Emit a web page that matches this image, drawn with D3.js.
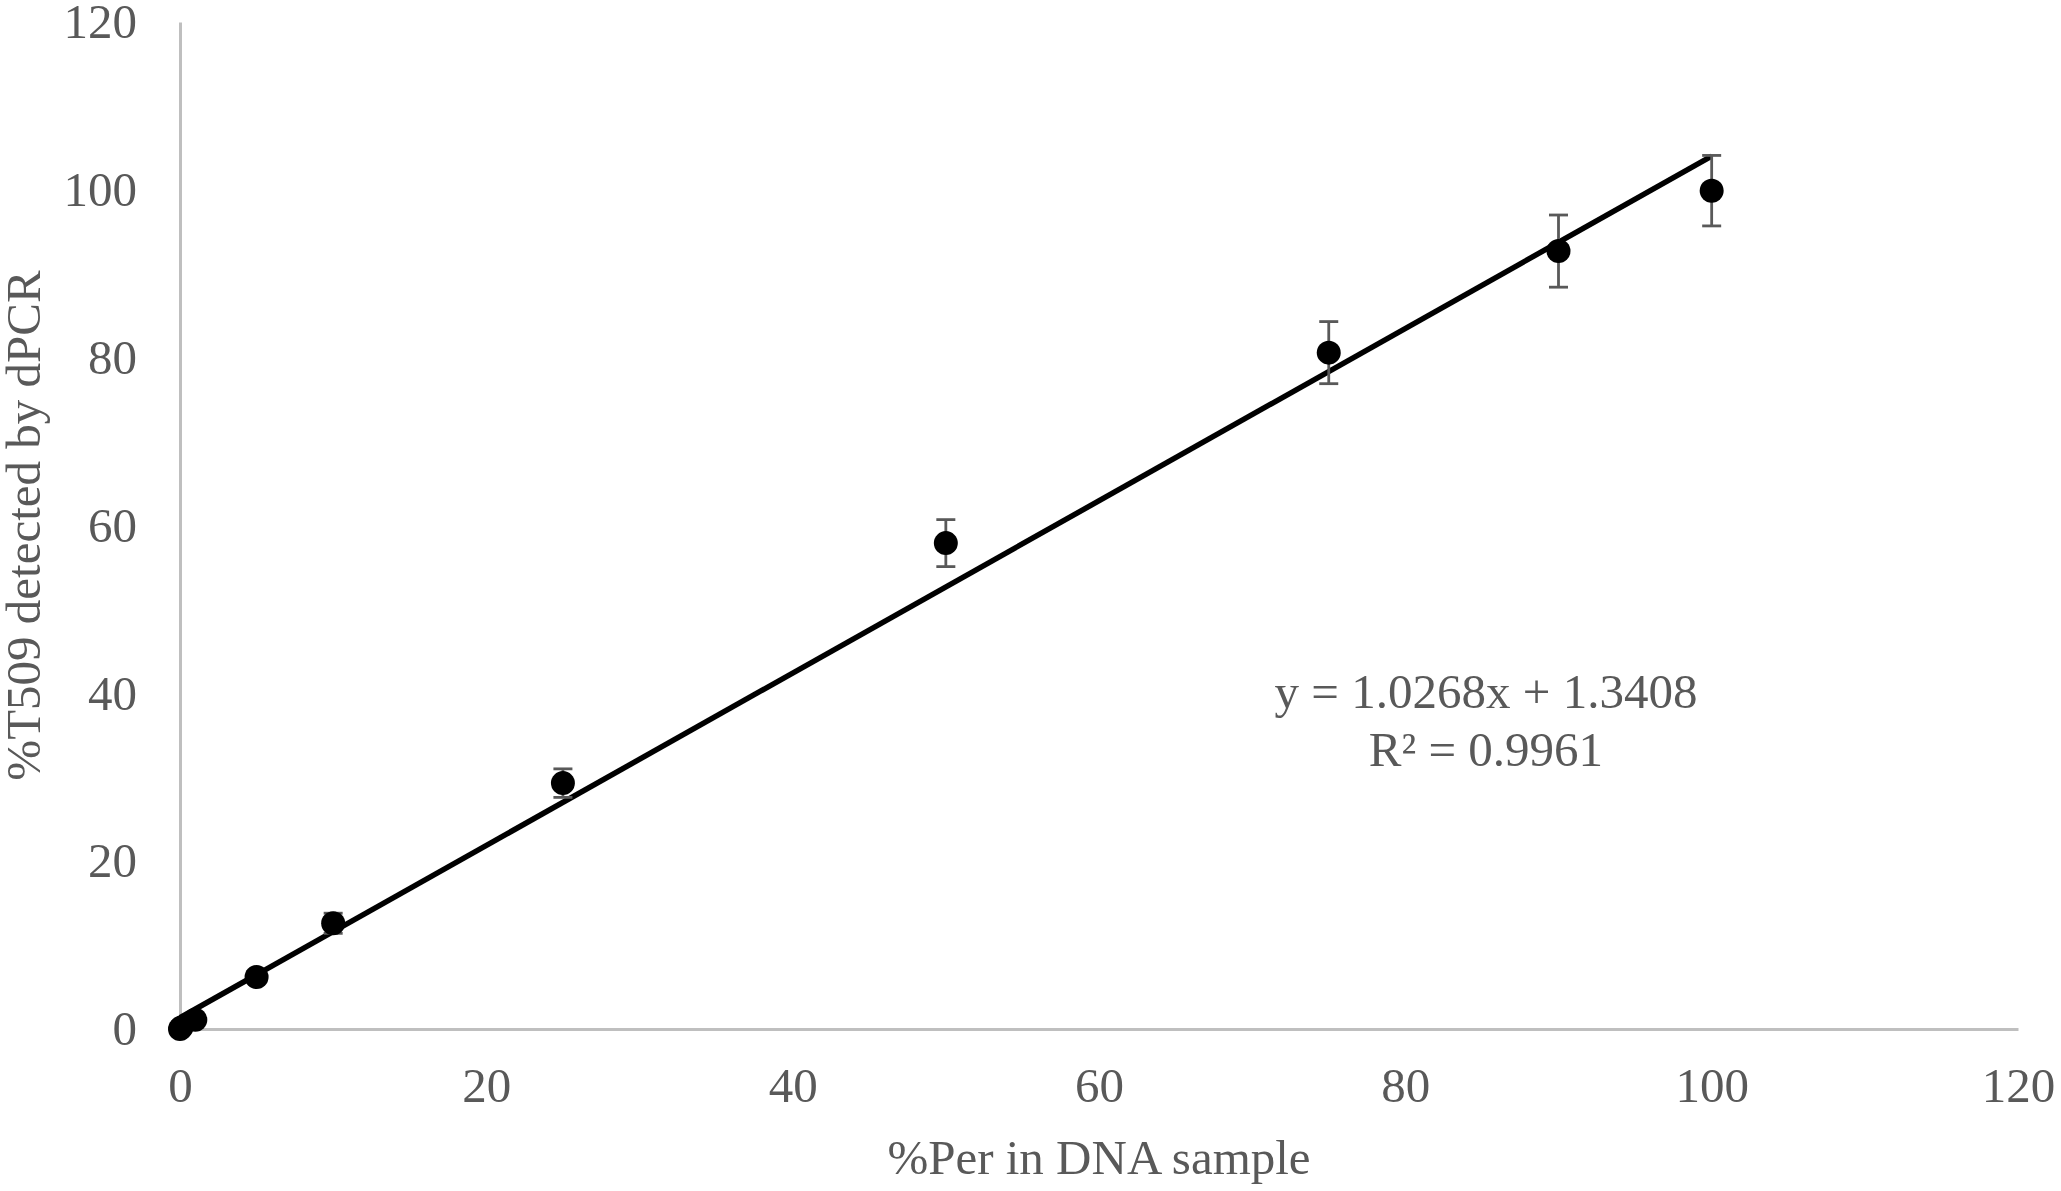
<!DOCTYPE html>
<html>
<head>
<meta charset="utf-8">
<script src="https://cdn.jsdelivr.net/npm/d3@7"></script>
<style>
  body { margin: 0; background: #fff; }
  text { font-family: "Liberation Serif", "Times New Roman", serif; fill: #595959; }
</style>
</head>
<body>
<div id="chart"></div>
<script>
// data
var pctPer = [0, 0.1, 1, 5, 10, 25, 50, 75, 90, 100];
var pctT509 = [0, 0.2, 1.1, 6.2, 12.6, 29.3, 57.9, 80.6, 92.7, 99.9];
var errT509 = [0.2, 0.2, 0.4, 0.6, 1.2, 1.7, 2.8, 3.7, 4.3, 4.2];
var xTicks = [0, 20, 40, 60, 80, 100, 120];
var yTicks = [0, 20, 40, 60, 80, 100, 120];
var trendSlope = 1.0268, trendIntercept = 1.3408;
var trendRange = [0, 100];
var eqLines = ["y = 1.0268x + 1.3408", "R\u00b2 = 0.9961"];

var width = 2061, height = 1191;
var fontSize = 49;

var svg = d3.select("#chart")
  .append("svg")
    .attr("width", width)
    .attr("height", height);

var x = d3.scaleLinear().domain([0, 120]).range([180, 2018]);
var y = d3.scaleLinear().domain([0, 120]).range([1029, 22]);

// axes
var xAxis = svg.append("g")
  .attr("transform", "translate(0," + y(0) + ")")
  .call(d3.axisBottom(x).tickValues(xTicks).tickSize(0).tickPadding(38));
var yAxis = svg.append("g")
  .attr("transform", "translate(" + x(0) + ",0)")
  .call(d3.axisLeft(y).tickValues(yTicks).tickSize(0).tickPadding(43));

[xAxis, yAxis].forEach(function (g) {
  g.select(".domain").attr("stroke", "#bfbfbf").attr("stroke-width", 3);
  g.selectAll("text")
    .style("font-size", fontSize + "px")
    .style("font-family", "'Liberation Serif', 'Times New Roman', serif")
    .attr("fill", "#595959");
});

// axis titles
svg.append("text")
  .attr("x", (x(0) + x(120)) / 2)
  .attr("y", 1174)
  .attr("text-anchor", "middle")
  .style("font-size", fontSize + "px")
  .text("%Per in DNA sample");

svg.append("text")
  .attr("transform", "translate(40," + (y(0) + y(120)) / 2 + ") rotate(-90)")
  .attr("text-anchor", "middle")
  .style("font-size", fontSize + "px")
  .text("%T509 detected by dPCR");

// linear trendline
svg.append("line")
  .attr("x1", x(trendRange[0]))
  .attr("y1", y(trendSlope * trendRange[0] + trendIntercept))
  .attr("x2", x(trendRange[1]))
  .attr("y2", y(trendSlope * trendRange[1] + trendIntercept))
  .attr("stroke", "#000")
  .attr("stroke-width", 5.5);

var points = pctPer.map(function (d, i) {
  return { x: d, y: pctT509[i], e: errT509[i] };
});

// error bars
var bars = svg.selectAll(".err")
  .data(points)
  .enter().append("g")
  .attr("class", "err")
  .attr("stroke", "#595959")
  .attr("stroke-width", 2.8);

bars.append("line")
  .attr("x1", d => x(d.x)).attr("x2", d => x(d.x))
  .attr("y1", d => y(d.y - d.e)).attr("y2", d => y(d.y + d.e));
bars.append("line")
  .attr("x1", d => x(d.x) - 9.5).attr("x2", d => x(d.x) + 9.5)
  .attr("y1", d => y(d.y + d.e)).attr("y2", d => y(d.y + d.e));
bars.append("line")
  .attr("x1", d => x(d.x) - 9.5).attr("x2", d => x(d.x) + 9.5)
  .attr("y1", d => y(d.y - d.e)).attr("y2", d => y(d.y - d.e));

// markers
svg.selectAll(".pt")
  .data(points)
  .enter().append("circle")
  .attr("class", "pt")
  .attr("cx", d => x(d.x))
  .attr("cy", d => y(d.y))
  .attr("r", 12)
  .attr("fill", "#000");

// trendline equation
svg.append("text")
  .attr("x", 1486)
  .attr("y", 708)
  .attr("text-anchor", "middle")
  .style("font-size", fontSize + "px")
  .selectAll("tspan")
  .data(eqLines)
  .enter().append("tspan")
    .attr("x", 1486)
    .attr("dy", (d, i) => i === 0 ? 0 : 58)
    .text(d => d);
</script>
</body>
</html>
